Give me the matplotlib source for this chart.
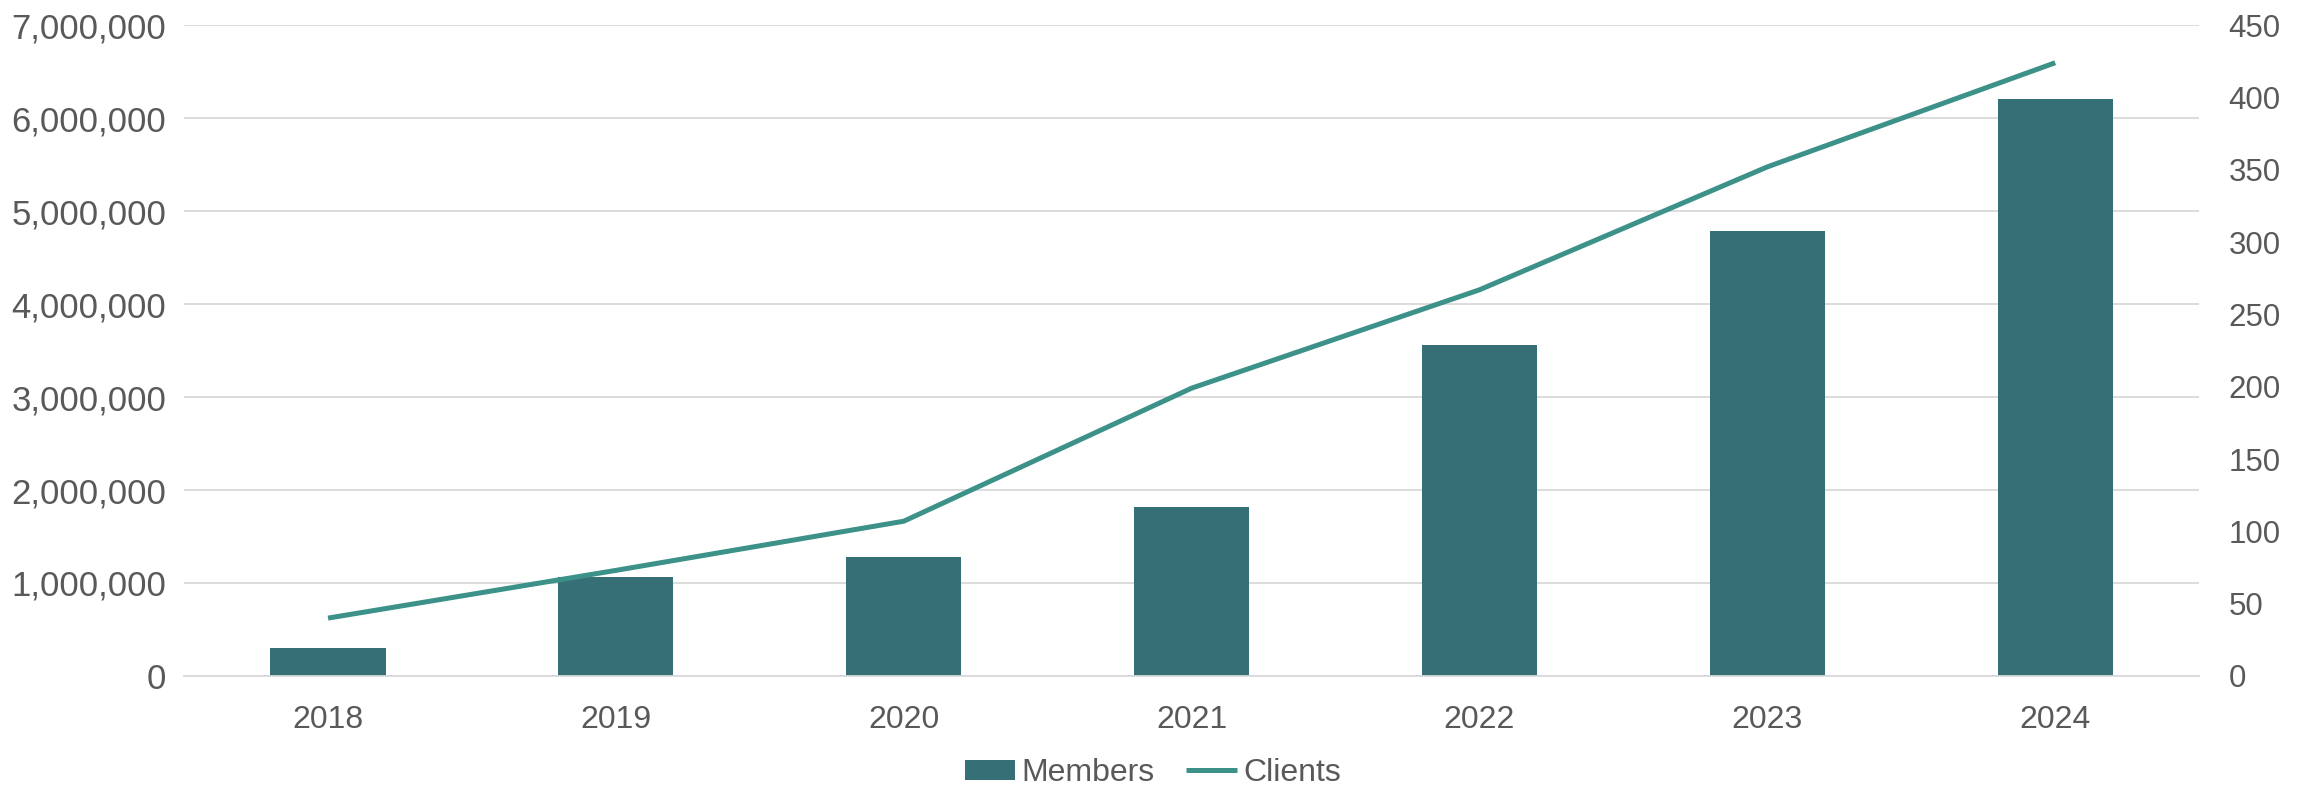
import matplotlib.pyplot as plt
from matplotlib.ticker import FuncFormatter, MultipleLocator

plt.rcParams['font.family'] = ['Liberation Sans', 'DejaVu Sans']

years = ["2018", "2019", "2020", "2021", "2022", "2023", "2024"]
members = [300000, 1060000, 1280000, 1815000, 3560000, 4785000, 6205000]
clients = [40, 73, 107, 199, 267, 352, 424]

BAR_COLOR = "#376F77"
LINE_COLOR = "#3C9189"
TEXT_COLOR = "#595959"
GRID_COLOR = "#D9D9D9"

fig = plt.figure(figsize=(23.1, 7.86), dpi=100)
ax = fig.add_axes([0.0797, 0.14, 0.8723, 0.828])
ax2 = ax.twinx()

x = range(len(years))
bars = ax.bar(x, members, width=0.4, color=BAR_COLOR, label="Members", zorder=2)
line, = ax2.plot(x, clients, color=LINE_COLOR, lw=3.6, label="Clients",
                 solid_capstyle="butt")

ax.set_xlim(-0.5, 6.5)
ax.set_ylim(0, 7000000)
ax2.set_ylim(0, 450)
ax.yaxis.set_major_locator(MultipleLocator(1000000))
ax2.yaxis.set_major_locator(MultipleLocator(50))
ax.yaxis.set_major_formatter(FuncFormatter(lambda v, p: f"{v:,.0f}"))

ax.set_xticks(list(x))
ax.set_xticklabels(years)

ax.set_axisbelow(True)
ax.grid(axis="y", color=GRID_COLOR, lw=1.3)

for a in (ax, ax2):
    for s in a.spines.values():
        s.set_visible(False)
ax.spines["bottom"].set_visible(True)
ax.spines["bottom"].set_color(GRID_COLOR)
ax.spines["bottom"].set_linewidth(1.3)

ax.tick_params(axis="y", length=0, pad=13, labelsize=25, labelcolor=TEXT_COLOR)
ax.tick_params(axis="x", length=0, pad=21, labelsize=23, labelcolor=TEXT_COLOR)
ax2.tick_params(axis="y", length=0, pad=21, labelsize=22.5, labelcolor=TEXT_COLOR)

leg = fig.legend(handles=[bars, line], loc="center", bbox_to_anchor=(0.499, 0.0165),
                 ncol=2, frameon=False, fontsize=23, handlelength=1.57,
                 handletextpad=0.2, columnspacing=1.0, handleheight=0.6)
for t in leg.get_texts():
    t.set_color(TEXT_COLOR)

fig.savefig("out.png", dpi=100)
